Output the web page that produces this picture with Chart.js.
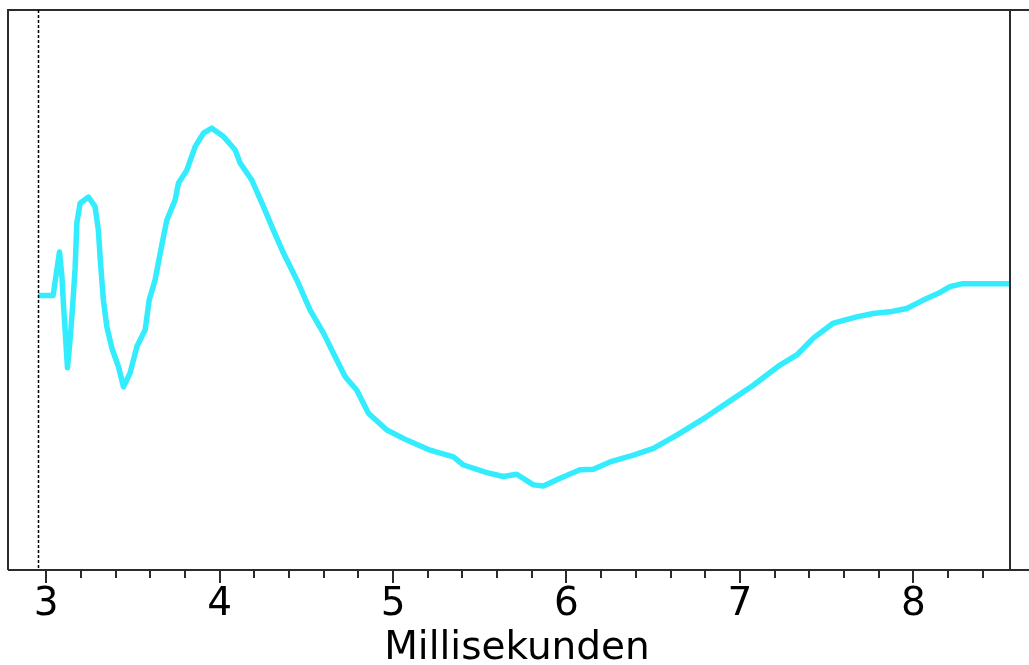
<!DOCTYPE html>
<html>
<head>
<meta charset="utf-8">
<style>
  html, body { margin: 0; padding: 0; background: #ffffff; }
  #wrap { width: 1029px; height: 665px; }
</style>
<script src="https://cdn.jsdelivr.net/npm/chart.js@4/dist/chart.umd.min.js"></script>
</head>
<body>
<div id="wrap"><canvas id="c" width="1029" height="665"></canvas></div>
<script>
// ---- Data ----
const timeMs = [
  2.954, 3.040, 3.077, 3.091, 3.100, 3.123, 3.138, 3.154, 3.167, 3.177,
  3.196, 3.244, 3.282, 3.301, 3.311, 3.321, 3.330, 3.350, 3.379, 3.417,
  3.446, 3.484, 3.523, 3.571, 3.594, 3.628, 3.676, 3.696, 3.744, 3.763,
  3.811, 3.859, 3.907, 3.955, 4.022, 4.090, 4.118, 4.186, 4.253, 4.310,
  4.368, 4.445, 4.522, 4.599, 4.656, 4.724, 4.791, 4.858, 4.964, 5.079,
  5.214, 5.348, 5.406, 5.541, 5.636, 5.713, 5.809, 5.867, 5.963, 6.078,
  6.155, 6.251, 6.386, 6.501, 6.636, 6.809, 6.924, 7.077, 7.231, 7.328,
  7.423, 7.539, 7.673, 7.769, 7.865, 7.962, 8.057, 8.144, 8.211, 8.279,
  8.557
];
const signal = [
  49.0, 49.0, 56.8, 52.4, 47.3, 36.1, 41.1, 47.7, 53.9, 62.0,
  65.5, 66.6, 64.9, 60.7, 55.9, 51.8, 48.2, 43.4, 39.6, 36.3,
  32.7, 35.2, 39.9, 42.9, 48.2, 51.8, 59.5, 62.5, 66.1, 69.1,
  71.4, 75.6, 78.0, 78.9, 77.4, 75.0, 72.7, 69.6, 64.9, 60.7,
  56.6, 51.8, 46.4, 42.3, 38.7, 34.5, 32.1, 28.0, 25.0, 23.2,
  21.4, 20.2, 18.75, 17.4, 16.7, 17.1, 15.2, 15.0, 16.4, 17.9,
  18.0, 19.3, 20.5, 21.7, 24.1, 27.4, 29.8, 33.0, 36.6, 38.4,
  41.4, 44.1, 45.2, 45.8, 46.1, 46.7, 48.2, 49.4, 50.6, 51.1,
  51.1
];
const tickValues = [3.0, 3.2, 3.4, 3.6, 3.8, 4.0, 4.2, 4.4, 4.6, 4.8,
                    5.0, 5.2, 5.4, 5.6, 5.8, 6.0, 6.2, 6.4, 6.6, 6.8,
                    7.0, 7.2, 7.4, 7.6, 7.8, 8.0, 8.2, 8.4];
const majorTicks = [3, 4, 5, 6, 7, 8];
const tickLabels = ['3', '4', '5', '6', '7', '8'];
const xRange = [2.78, 8.557];
const yRange = [0, 100];
const cursorMs = 2.954;
const axisTitle = 'Millisekunden';

// ---- Chart ----
const points = timeMs.map((t, i) => ({ x: t, y: signal[i] }));

const framePlugin = {
  id: 'frame',
  afterDraw(chart) {
    const { ctx } = chart;
    const { left, right, top, bottom } = chart.chartArea;
    const xs = chart.scales.x;
    ctx.save();
    // frame
    ctx.strokeStyle = '#2b2b2b';
    ctx.lineWidth = 2;
    ctx.beginPath();
    ctx.moveTo(left, bottom);
    ctx.lineTo(left, top);
    ctx.lineTo(chart.width, top);
    ctx.moveTo(left, bottom);
    ctx.lineTo(chart.width, bottom);
    ctx.moveTo(right, top);
    ctx.lineTo(right, bottom);
    ctx.stroke();
    // tick marks
    ctx.beginPath();
    tickValues.forEach(v => {
      const px = Math.round(xs.getPixelForValue(v));
      const isMajor = majorTicks.some(m => Math.abs(m - v) < 1e-6);
      ctx.moveTo(px, bottom);
      ctx.lineTo(px, bottom + (isMajor ? 13 : 8));
    });
    ctx.stroke();
    // dashed cursor line
    const cx = Math.round(xs.getPixelForValue(cursorMs)) + 0.5;
    ctx.setLineDash([3, 2]);
    ctx.lineWidth = 1.5;
    ctx.strokeStyle = '#000000';
    ctx.beginPath();
    ctx.moveTo(cx, top);
    ctx.lineTo(cx, bottom);
    ctx.stroke();
    ctx.setLineDash([]);
    // axis title
    ctx.fillStyle = '#000000';
    ctx.font = '39px "DejaVu Sans"';
    ctx.textAlign = 'center';
    ctx.textBaseline = 'alphabetic';
    ctx.fillText(axisTitle, (left + right) / 2 + 8, bottom + 89);
    ctx.restore();
  }
};

new Chart(document.getElementById('c'), {
  type: 'line',
  data: {
    datasets: [{
      data: points,
      borderColor: '#33ecfd',
      borderWidth: 5.5,
      pointRadius: 0,
      tension: 0,
      fill: false,
      borderJoinStyle: 'round',
      borderCapStyle: 'butt'
    }]
  },
  options: {
    responsive: false,
    animation: false,
    events: [],
    layout: { padding: { left: 8, right: 19, top: 10, bottom: 0 } },
    plugins: { legend: { display: false }, tooltip: { enabled: false }, title: { display: false } },
    scales: {
      x: {
        type: 'linear',
        min: xRange[0],
        max: xRange[1],
        afterBuildTicks(scale) {
          scale.ticks = tickValues.map(v => ({ value: v }));
        },
        afterFit(scale) { scale.height = 95; },
        grid: { display: false, drawTicks: false },
        border: { display: false },
        ticks: {
          autoSkip: false,
          maxRotation: 0,
          padding: 11,
          color: '#000000',
          font: { family: 'DejaVu Sans', size: 39 },
          callback(value) {
            const idx = majorTicks.findIndex(m => Math.abs(m - value) < 1e-6);
            return idx >= 0 ? tickLabels[idx] : '';
          }
        },
        title: { display: false }
      },
      y: {
        display: false,
        min: yRange[0],
        max: yRange[1]
      }
    }
  },
  plugins: [framePlugin]
});
</script>
</body>
</html>
